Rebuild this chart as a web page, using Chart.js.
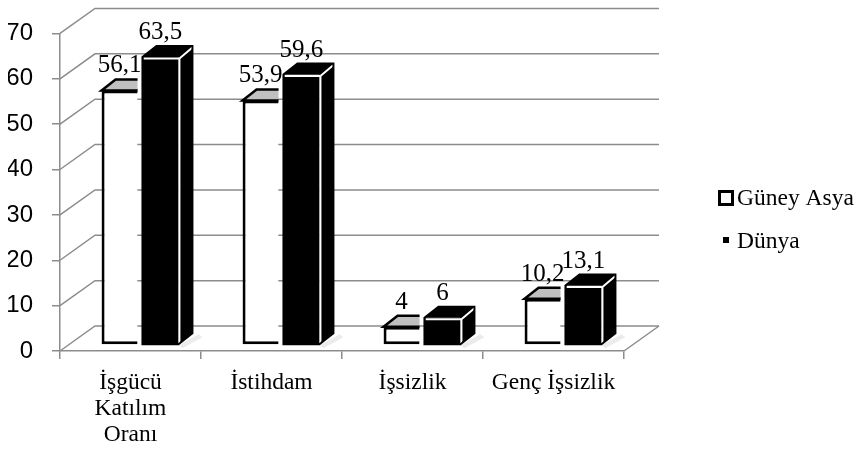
<!DOCTYPE html>
<html>
<head>
<meta charset="utf-8">
<script src="https://cdn.jsdelivr.net/npm/chart.js@4"></script>
<style>
  html, body { margin: 0; padding: 0; background: #fff; }
  #wrap { width: 858px; height: 449px; }
</style>
</head>
<body>
<div id="wrap"><canvas id="barChart" width="858" height="449"></canvas></div>
<script>
// chart values
const categories = [['İşgücü', 'Katılım', 'Oranı'], 'İstihdam', 'İşsizlik', 'Genç İşsizlik'];
const guneyAsya = [56.1, 53.9, 4, 10.2];
const dunya = [63.5, 59.6, 6, 13.1];
const seriesNames = ['Güney Asya', 'Dünya'];
const yMin = 0, yMax = 70, yStep = 10;

const serif = "'Liberation Serif', 'Times New Roman', serif";
const wallDx = 35, wallDy = -25;   // back wall offset
const barDx = 14, barDy = -11;     // bar depth
const shiftX = 9.5, shiftY = -6;   // bars sit a bit into the floor
const gridGray = '#8c8c8c';

function fmt(v) { return String(v).replace('.', ','); }

const wallPlugin = {
    id: 'wall',
    beforeDatasetsDraw(chart) {
        const ctx = chart.ctx, y = chart.scales.y, a = chart.chartArea;
        ctx.save();
        ctx.strokeStyle = gridGray;
        ctx.lineWidth = 1.5;
        for (let v = yMin; v <= yMax; v += yStep) {
            const py = y.getPixelForValue(v);
            ctx.beginPath();
            ctx.moveTo(a.left, py);
            ctx.lineTo(a.left + wallDx, py + wallDy);
            ctx.lineTo(a.right + wallDx, py + wallDy);
            ctx.stroke();
        }
        // floor right edge
        ctx.beginPath();
        ctx.moveTo(a.right, a.bottom);
        ctx.lineTo(a.right + wallDx, a.bottom + wallDy);
        ctx.stroke();
        ctx.restore();
        ctx.save();
        ctx.translate(shiftX, shiftY);
    },
    afterDatasetDraw(chart, args) {
        const ctx = chart.ctx;
        args.meta.data.forEach(el => {
            const p = el.getProps(['x', 'y', 'base', 'width'], true);
            const l = p.x - p.width / 2, r = p.x + p.width / 2, t = p.y, b = p.base;
            if (args.index === 0) {
                // top face of the white bar, cut at its right edge
                ctx.save();
                ctx.beginPath();
                ctx.rect(l - 5, t - 30, r - l + 5, 40);
                ctx.clip();
                ctx.beginPath();
                ctx.moveTo(l, t);
                ctx.lineTo(l + barDx, t + barDy);
                ctx.lineTo(r + barDx, t + barDy);
                ctx.lineTo(r, t);
                ctx.closePath();
                ctx.fillStyle = '#c0c0c0';
                ctx.fill();
                ctx.strokeStyle = '#000';
                ctx.lineWidth = 2.5;
                ctx.stroke();
                ctx.restore();
            } else {
                // soft shadow on the floor
                ctx.save();
                ctx.fillStyle = 'rgba(0,0,0,0.08)';
                ctx.beginPath();
                ctx.moveTo(r, b + 1);
                ctx.lineTo(r + barDx + 6, b + barDy + 1);
                ctx.lineTo(r + barDx + 10, b + barDy + 4);
                ctx.lineTo(r + 4, b + 4);
                ctx.closePath();
                ctx.fill();
                ctx.fillStyle = '#000';
                ctx.beginPath();
                ctx.moveTo(l, t);
                ctx.lineTo(l + barDx, t + barDy);
                ctx.lineTo(r + barDx, t + barDy);
                ctx.lineTo(r + barDx, b + barDy);
                ctx.lineTo(r, b);
                ctx.lineTo(r, t);
                ctx.closePath();
                ctx.fill();
                ctx.strokeStyle = '#fff';
                ctx.lineWidth = 2;
                ctx.beginPath();
                ctx.moveTo(l + 1, t + 1.5);
                ctx.lineTo(r + 1, t + 1.5);
                ctx.lineTo(r + 1, b - 1);
                ctx.moveTo(r + 1, t + 1.5);
                ctx.lineTo(r + barDx, t + barDy + 1.5);
                ctx.stroke();
                ctx.strokeStyle = '#000';
                ctx.lineWidth = 2;
                ctx.beginPath();
                ctx.moveTo(l, b);
                ctx.lineTo(l, t);
                ctx.lineTo(l + barDx, t + barDy);
                ctx.lineTo(r + barDx, t + barDy);
                ctx.lineTo(r + barDx, b + barDy);
                ctx.lineTo(r, b);
                ctx.closePath();
                ctx.stroke();
                ctx.restore();
            }
        });
    },
    afterDatasetsDraw(chart) {
        const ctx = chart.ctx;
        ctx.restore();
        // value labels
        ctx.save();
        ctx.font = '25px ' + serif;
        ctx.fillStyle = '#000';
        ctx.textAlign = 'center';
        ctx.textBaseline = 'alphabetic';
        chart.data.datasets.forEach((ds, i) => {
            chart.getDatasetMeta(i).data.forEach((el, j) => {
                const p = el.getProps(['x', 'y'], true);
                ctx.fillText(fmt(ds.data[j]), p.x + shiftX, p.y + shiftY + barDy - 7);
            });
        });
        ctx.restore();
    },
    afterDraw(chart) {
        // legend
        const ctx = chart.ctx;
        ctx.save();
        ctx.fillStyle = '#fff';
        ctx.strokeStyle = '#000';
        ctx.lineWidth = 3;
        ctx.fillRect(719.5, 191.5, 13, 13);
        ctx.strokeRect(719.5, 191.5, 13, 13);
        ctx.fillStyle = '#000';
        ctx.fillRect(723, 237, 6, 6);
        ctx.font = '23.5px ' + serif;
        ctx.textBaseline = 'middle';
        ctx.fillText(seriesNames[0], 737, 199);
        ctx.fillText(seriesNames[1], 737, 242);
        ctx.restore();
    }
};

new Chart(document.getElementById('barChart').getContext('2d'), {
    type: 'bar',
    data: {
        labels: categories,
        datasets: [{
            label: seriesNames[0],
            data: guneyAsya,
            backgroundColor: '#fff',
            borderColor: '#000',
            borderWidth: 3,
            borderSkipped: 'right'
        }, {
            label: seriesNames[1],
            data: dunya,
            backgroundColor: '#000',
            borderWidth: 0
        }]
    },
    options: {
        responsive: false,
        animation: false,
        categoryPercentage: 0.58,
        barPercentage: 0.88,
        layout: { padding: { left: 8, right: 234, top: 33, bottom: 0 } },
        plugins: {
            legend: { display: false },
            tooltip: { enabled: false }
        },
        scales: {
            x: {
                afterFit(scale) { scale.height = 98; },
                grid: { drawOnChartArea: false, color: gridGray, lineWidth: 1.5, tickLength: 8 },
                border: { color: gridGray, width: 1.5 },
                ticks: { color: '#000', font: { family: serif, size: 23.5, lineHeight: 1.1 }, padding: 11, maxRotation: 0 }
            },
            y: {
                min: yMin,
                max: yMax,
                afterFit(scale) { scale.width = 52; },
                grid: { drawOnChartArea: false, color: gridGray, lineWidth: 1.5, tickLength: 8 },
                border: { color: gridGray, width: 1.5 },
                ticks: { stepSize: yStep, color: '#000', font: { family: "'Liberation Sans', sans-serif", size: 24 }, padding: 19 }
            }
        }
    },
    plugins: [wallPlugin]
});
</script>
</body>
</html>
